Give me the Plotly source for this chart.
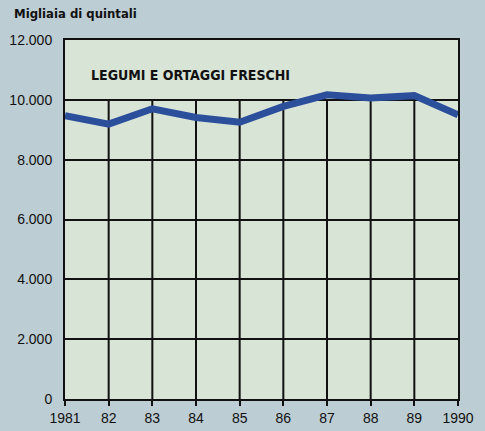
import plotly.graph_objects as go

# Annual output of fresh legumes and vegetables (thousands of quintals)
years = [1981, 1982, 1983, 1984, 1985, 1986, 1987, 1988, 1989, 1990]
year_labels = ["1981", "82", "83", "84", "85", "86", "87", "88", "89", "1990"]
output = [9470, 9190, 9700, 9410, 9250, 9780, 10170, 10060, 10140, 9500]

y_ticks = [0, 2000, 4000, 6000, 8000, 10000, 12000]
y_tick_labels = ["0", "2.000", "4.000", "6.000", "8.000", "10.000", "12.000"]

grid_top = 10000  # vertical grid stops under the title band

FONT = "Liberation Sans, Arial, Helvetica, sans-serif"
NARROW = "Liberation Sans Narrow, DejaVu Sans Condensed, Arial Narrow, sans-serif"

fig = go.Figure()

fig.add_trace(go.Scatter(
    x=years, y=output, mode="lines",
    line=dict(color="#2c4f9c", width=7),
    hoverinfo="x+y", showlegend=False,
))

# vertical grid lines from the baseline up to the 10.000 level
for yr in years[1:-1]:
    fig.add_shape(type="line", xref="x", yref="y", x0=yr, x1=yr, y0=0, y1=grid_top,
                  line=dict(color="#111111", width=2), layer="below")

fig.add_annotation(
    text="<b>LEGUMI E ORTAGGI FRESCHI</b>", xref="paper", yref="paper",
    x=0.062, y=0.903, xanchor="left", yanchor="middle", showarrow=False,
    font=dict(family=NARROW, size=14, color="#111111"),
)
fig.add_annotation(
    text="<b>Migliaia di quintali</b>", xref="paper", yref="paper",
    x=-0.135, y=1.074, xanchor="left", yanchor="middle", showarrow=False,
    font=dict(family=NARROW, size=13, color="#111111"),
)

fig.update_layout(
    width=485, height=431,
    margin=dict(l=65, r=27, t=40, b=32, autoexpand=False),
    paper_bgcolor="#bccdd3",
    plot_bgcolor="#d8e4d6",
    font=dict(family=FONT, size=14, color="#111111"),
    xaxis=dict(
        range=[years[0], years[-1]], automargin=False,
        tickmode="array", tickvals=years, ticktext=year_labels,
        showgrid=False, zeroline=False,
        showline=True, linecolor="#111111", linewidth=2, mirror=True,
        ticks="outside", ticklen=5, tickwidth=2, tickcolor="#111111",
        tickfont=dict(family=FONT, size=14),
    ),
    yaxis=dict(
        range=[0, 12000], automargin=False,
        tickmode="array", tickvals=y_ticks, ticktext=y_tick_labels,
        showgrid=True, gridcolor="#111111", gridwidth=2,
        zeroline=False,
        showline=True, linecolor="#111111", linewidth=2, mirror=True,
        ticks="", ticklabelstandoff=8,
        tickfont=dict(family=FONT, size=14),
    ),
)

fig.write_html("out.html")
